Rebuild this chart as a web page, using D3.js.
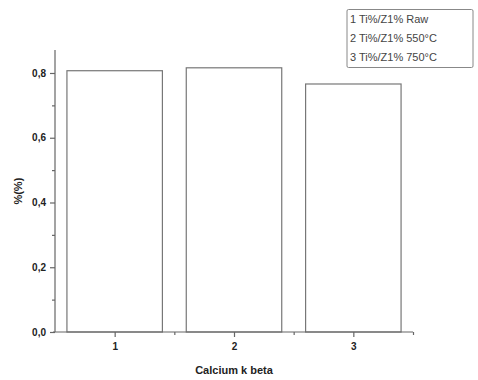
<!DOCTYPE html>
<html>
<head>
<meta charset="utf-8">
<script src="https://cdn.jsdelivr.net/npm/d3@7"></script>
<style>
  body { margin: 0; background: #fff; }
  text { font-family: "Liberation Sans", Arial, sans-serif; }
</style>
</head>
<body>
<div id="chart"></div>
<script>
// Chart data
const categories = [1, 2, 3];
const values = [0.807, 0.816, 0.766];
const yTicks = [0, 0.2, 0.4, 0.6, 0.8];
const legendLabels = ['1 Ti%/Z1% Raw', '2 Ti%/Z1% 550°C', '3 Ti%/Z1% 750°C'];

const width = 478, height = 380;
const margin = { top: 50, right: 65, bottom: 48, left: 55 };

const svg = d3.select('#chart')
    .append('svg')
    .attr('width', width)
    .attr('height', height);

const x = d3.scaleLinear()
    .domain([0.5, 3.5])
    .range([margin.left, width - margin.right]);

const y = d3.scaleLinear()
    .domain([0, 0.871])
    .range([height - margin.bottom, margin.top]);

const axisColor = '#666';
const barW = (x(1.8) - x(1));

// Bars
svg.selectAll('.bar')
    .data(values)
    .enter()
    .append('rect')
    .attr('class', 'bar')
    .attr('x', (d, i) => x(categories[i]) - barW / 2)
    .attr('y', d => y(d))
    .attr('width', barW)
    .attr('height', d => y(0) - y(d))
    .attr('fill', '#fff')
    .attr('stroke', '#777')
    .attr('stroke-width', 1.2);

// Y axis
const yAxis = svg.append('g')
    .attr('transform', `translate(${margin.left},0)`)
    .call(d3.axisLeft(y).tickValues(yTicks).tickSize(5).tickPadding(4)
        .tickFormat(d => d3.format('.1f')(d).replace('.', ',')));

svg.append('g')
    .attr('transform', `translate(${margin.left},0)`)
    .call(d3.axisLeft(y).tickValues([0.1, 0.3, 0.5, 0.7]).tickSize(3).tickFormat(''))
    .select('.domain').remove();

// X axis
const xAxis = svg.append('g')
    .attr('transform', `translate(0,${y(0)})`)
    .call(d3.axisBottom(x).tickValues(categories).tickSize(5).tickPadding(6)
        .tickFormat(d3.format('d')));

svg.append('g')
    .attr('transform', `translate(0,${y(0)})`)
    .call(d3.axisBottom(x).tickValues([1.5, 2.5, 3.5]).tickSize(3).tickFormat(''))
    .select('.domain').remove();

svg.selectAll('.domain, .tick line')
    .attr('stroke', axisColor)
    .attr('stroke-width', 1.2);

svg.selectAll('.domain').attr('d', function () {
    return d3.select(this).attr('d');
});

// Remove outer tick caps from domain paths
yAxis.select('.domain').attr('d', `M0,${y(0)}V${margin.top}`);
xAxis.select('.domain').attr('d', `M${margin.left - 2},0H${x(3.5)}`);

svg.selectAll('.tick text')
    .attr('fill', '#222')
    .style('font-size', '10px')
    .style('font-weight', 'bold');

// Axis titles
svg.append('text')
    .attr('x', x(2))
    .attr('y', 374)
    .attr('text-anchor', 'middle')
    .attr('fill', '#222')
    .style('font-size', '11px')
    .style('font-weight', 'bold')
    .text('Calcium k beta');

svg.append('text')
    .attr('transform', `translate(22,${y(0.435)}) rotate(-90)`)
    .attr('text-anchor', 'middle')
    .attr('fill', '#222')
    .style('font-size', '11px')
    .style('font-weight', 'bold')
    .text('%(%)');

// Legend
const legend = svg.append('g');
legend.append('rect')
    .attr('x', 347)
    .attr('y', 9.5)
    .attr('width', 126)
    .attr('height', 58)
    .attr('rx', 1.5)
    .attr('fill', '#fff')
    .attr('stroke', '#888')
    .attr('stroke-width', 1);

legend.selectAll('.leg')
    .data(legendLabels)
    .enter()
    .append('text')
    .attr('class', 'leg')
    .attr('x', 350)
    .attr('y', (d, i) => 23 + i * 19)
    .attr('fill', '#444')
    .style('font-size', '11px')
    .text(d => d);
</script>
</body>
</html>
